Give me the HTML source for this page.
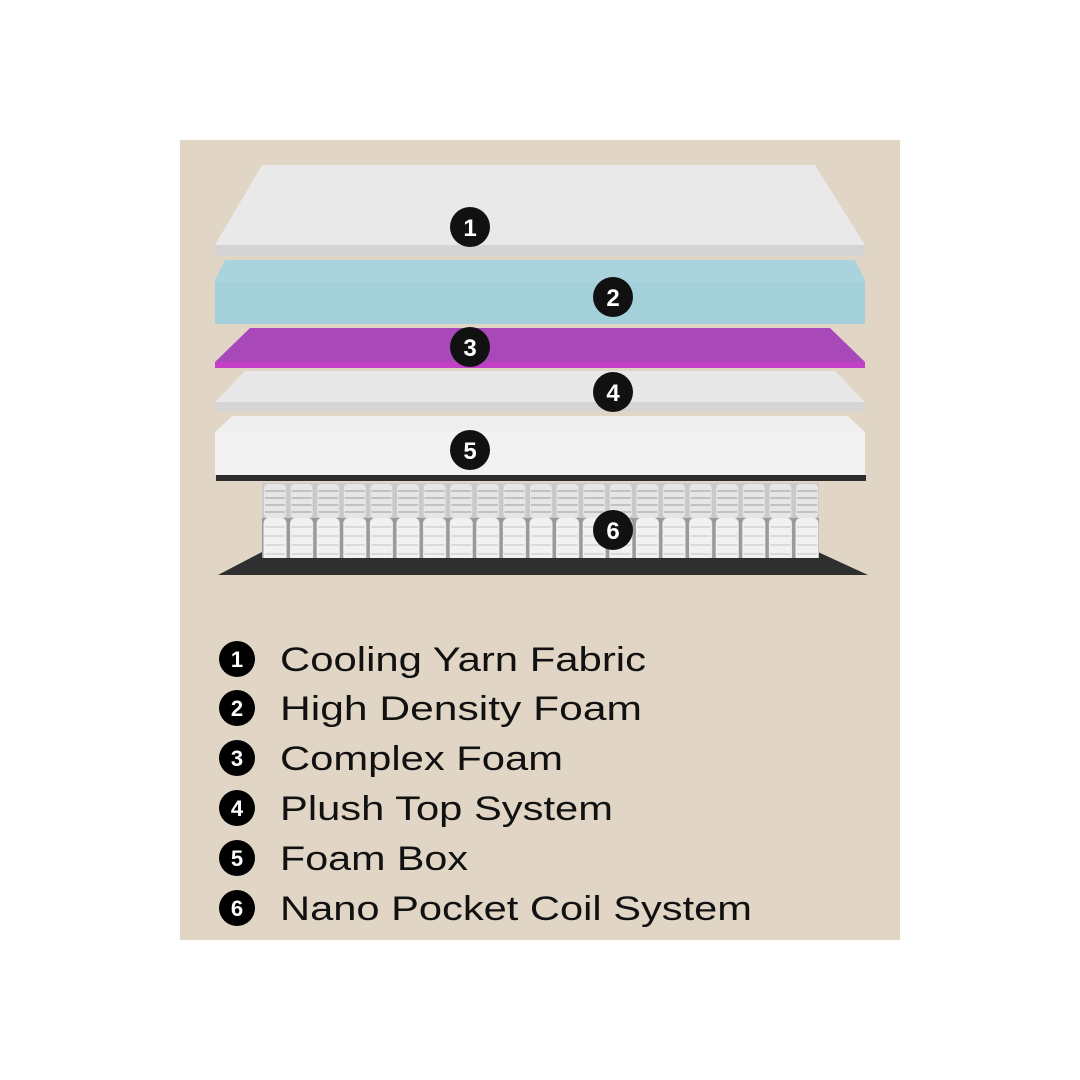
<!DOCTYPE html>
<html><head><meta charset="utf-8"><style>
html,body{margin:0;padding:0;background:#fff;width:1080px;height:1080px;overflow:hidden}
svg{display:block}
</style></head><body>
<svg width="1080" height="1080" viewBox="0 0 1080 1080" xmlns="http://www.w3.org/2000/svg">
<defs>
<pattern id="coilTop" x="262" y="483" width="26.6" height="36" patternUnits="userSpaceOnUse">
<rect x="0" y="0" width="26.6" height="36" fill="#c9c9c9"/>
<rect x="2" y="1" width="22" height="34" rx="4" fill="#e6e6e6"/>
<path d="M3 8h20M3 15h20M3 22h20M3 29h20" stroke="#b5b5b5" stroke-width="1.5"/>
</pattern>
<pattern id="coilBot" x="262" y="518" width="26.6" height="44" patternUnits="userSpaceOnUse">
<rect x="0" y="0" width="26.6" height="44" fill="#9a9a9a"/>
<rect x="1.5" y="0" width="23" height="44" rx="5" fill="#f1f1f1"/>
<path d="M3 9h20M3 18h20M3 27h20M3 36h20" stroke="#d2d2d2" stroke-width="1.5"/>
</pattern>
</defs>
<rect x="180" y="140" width="720" height="800" fill="#e1d6c5"/>
<!-- layer1 -->
<polygon points="262,165 815,165 865,245 865,255 215,255 215,245" fill="#e9e9e9"/>
<rect x="215" y="245" width="650" height="11" fill="#d4d4d4"/>
<!-- layer2 -->
<polygon points="225,260 855,260 865,280 865,324 215,324 215,280" fill="#a9d4de"/>
<rect x="215" y="282" width="650" height="42" fill="#a4d0da"/>
<!-- layer3 -->
<polygon points="250,328 830,328 865,362 865,368 215,368 215,362" fill="#a948b8"/>
<rect x="215" y="362" width="650" height="6" fill="#c23fc6"/>
<!-- layer4 -->
<polygon points="245,371 835,371 865,402 865,412 215,412 215,402" fill="#e8e8e8"/>
<rect x="215" y="402" width="650" height="10" fill="#d5d5d5"/>
<!-- layer5 -->
<polygon points="232,416 848,416 865,432 865,475 215,475 215,432" fill="#eeeeee"/>
<rect x="215" y="432" width="650" height="43" fill="#f2f2f2"/>
<rect x="216" y="475" width="650" height="6" fill="#2e2e2e"/>
<!-- coils -->
<rect x="262" y="483" width="557" height="36" fill="url(#coilTop)"/>
<rect x="262" y="518" width="557" height="44" fill="url(#coilBot)"/>
<polygon points="262,552 818,552 868,575 218,575" fill="#2f2f2f"/>
<rect x="262" y="518" width="557" height="40" fill="url(#coilBot)"/>
<!-- badges -->
<g font-family="Liberation Sans, sans-serif" font-weight="bold" font-size="24" fill="#fff" text-anchor="middle">
<circle cx="470" cy="227" r="20" fill="#111"/><text x="470" y="236">1</text>
<circle cx="613" cy="297" r="20" fill="#111"/><text x="613" y="306">2</text>
<circle cx="470" cy="347" r="20" fill="#111"/><text x="470" y="356">3</text>
<circle cx="613" cy="392" r="20" fill="#111"/><text x="613" y="401">4</text>
<circle cx="470" cy="450" r="20" fill="#111"/><text x="470" y="459">5</text>
<circle cx="613" cy="530" r="20" fill="#111"/><text x="613" y="539">6</text>
</g>
<!-- legend -->
<g font-family="Liberation Sans, sans-serif" font-weight="bold" font-size="22" fill="#fff" text-anchor="middle">
<circle cx="237" cy="659" r="18" fill="#000"/><text x="237" y="667">1</text>
<circle cx="237" cy="708" r="18" fill="#000"/><text x="237" y="716">2</text>
<circle cx="237" cy="758" r="18" fill="#000"/><text x="237" y="766">3</text>
<circle cx="237" cy="808" r="18" fill="#000"/><text x="237" y="816">4</text>
<circle cx="237" cy="858" r="18" fill="#000"/><text x="237" y="866">5</text>
<circle cx="237" cy="908" r="18" fill="#000"/><text x="237" y="916">6</text>
</g>
<g font-family="Liberation Sans, sans-serif" font-size="34" fill="#111">
<text x="280" y="671" textLength="366" lengthAdjust="spacingAndGlyphs">Cooling Yarn Fabric</text>
<text x="280" y="720" textLength="362" lengthAdjust="spacingAndGlyphs">High Density Foam</text>
<text x="280" y="770" textLength="283" lengthAdjust="spacingAndGlyphs">Complex Foam</text>
<text x="280" y="820" textLength="333" lengthAdjust="spacingAndGlyphs">Plush Top System</text>
<text x="280" y="870" textLength="188" lengthAdjust="spacingAndGlyphs">Foam Box</text>
<text x="280" y="920" textLength="472" lengthAdjust="spacingAndGlyphs">Nano Pocket Coil System</text>
</g>
</svg>
</body></html>
